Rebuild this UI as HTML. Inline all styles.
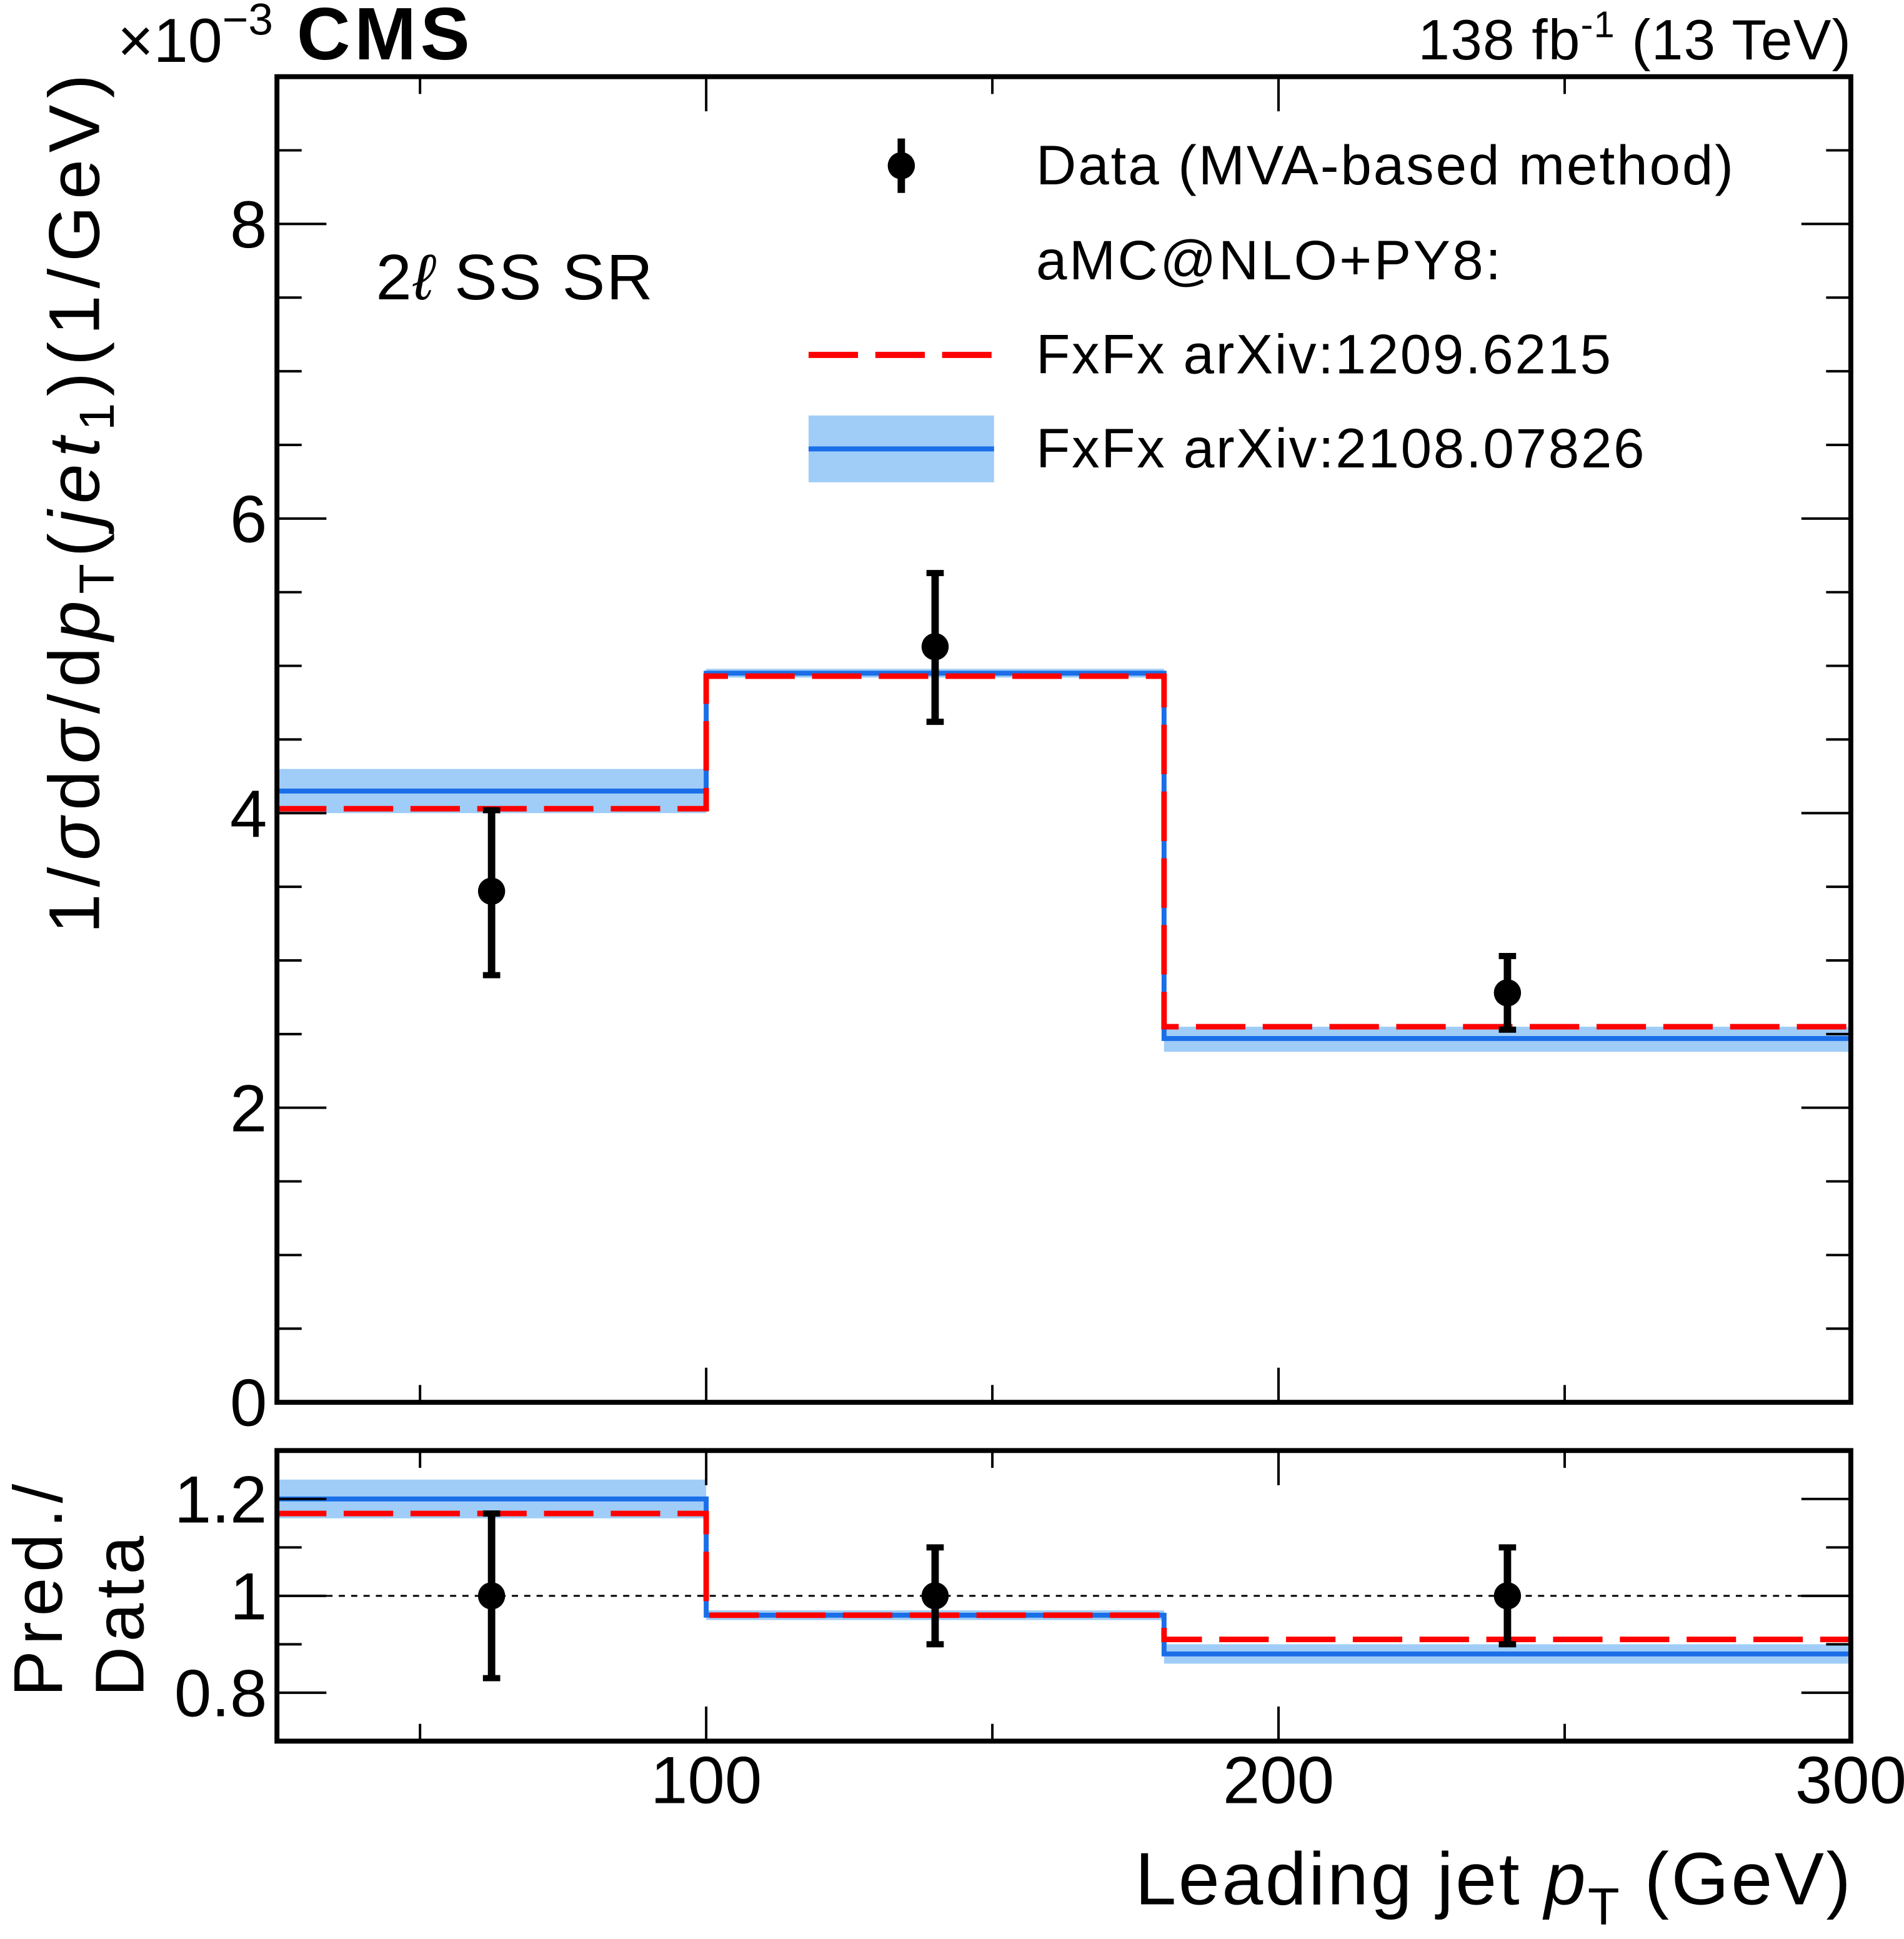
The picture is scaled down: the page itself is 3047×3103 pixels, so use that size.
<!DOCTYPE html>
<html><head><meta charset="utf-8"><style>
html,body{margin:0;padding:0;background:#fff}
svg{display:block}
text{font-family:"Liberation Sans",Arial,sans-serif;fill:#000}
</style></head><body>
<svg id="c" width="3047" height="3103" viewBox="0 0 1540 1568" preserveAspectRatio="none" xmlns="http://www.w3.org/2000/svg">
<g id="g"></g>
</svg>
<script>
const binEdges=[25,100,180,300];
const dataVals=[3.47,5.13,2.78];
const dataLo=[2.90,4.62,2.53];
const dataHi=[4.02,5.63,3.03];
const blueVals=[4.15,4.95,2.47];
const blueLo=[4.00,4.92,2.38];
const blueHi=[4.30,4.98,2.55];
const redVals=[4.03,4.93,2.55];
const ratioDataLo=[0.83,0.90,0.90];
const ratioDataHi=[1.17,1.10,1.10];
const ratioBlue=[1.20,0.96,0.88];
const ratioBlueLo=[1.16,0.95,0.86];
const ratioBlueHi=[1.24,0.97,0.90];
const ratioRed=[1.17,0.96,0.91];
const yTicks=[0,2,4,6,8];
const rTicks=[0.8,1,1.2];
const xTicks=[100,200,300];

const L=224,R=1497,T=62,B=1134,RT=1173,RB=1408;
const X=v=>L+(v-25)/(300-25)*(R-L);
const Y=v=>B-v/9*(B-T);
const RY=v=>RB-(v-0.7)/0.6*(RB-RT);
const g=document.getElementById('g');
const NS='http://www.w3.org/2000/svg';
function el(t,a,name,txt){const e=document.createElementNS(NS,t);for(const k in a)e.setAttribute(k,a[k]);


if(txt!==undefined)e.textContent=txt;g.appendChild(e);return e;}
function line(x1,y1,x2,y2,s,w,name,dash){const a={x1,y1,x2,y2,stroke:s,'stroke-width':w};if(dash)a['stroke-dasharray']=dash;return el('line',a,name);}
function hist(vals,yf,color,w,name,dash){let d='';for(let i=0;i<vals.length;i++){const x0=X(binEdges[i]),x1=X(binEdges[i+1]),y=yf(vals[i]);d+=(i?'L':'M')+x0+','+y+'L'+x1+','+y;}
const a={d,fill:'none',stroke:color,'stroke-width':w};if(dash)a['stroke-dasharray']=dash;el('path',a,name);}
function panel(yf,bVals,bLo,bHi,rVals,dVals,dLo,dHi,name){
 for(let i=0;i<bVals.length;i++){const x0=X(binEdges[i]),x1=X(binEdges[i+1]);el('rect',{x:x0,y:yf(bHi[i]),width:x1-x0,height:yf(bLo[i])-yf(bHi[i]),fill:'#9fcdf8'},name+'-band-'+i);}
 hist(bVals,yf,'#1a6ee8',4,name+'-blue-line');
 hist(rVals,yf,'#ff0000',4.5,name+'-red-line','40,14');
 for(let i=0;i<dVals.length;i++){const xc=X((binEdges[i]+binEdges[i+1])/2);
  line(xc,yf(dLo[i]),xc,yf(dHi[i]),'#000',6,name+'-errbar-'+i);
  line(xc-7,yf(dLo[i]),xc+7,yf(dLo[i]),'#000',5,name+'-errcap-lo-'+i);
  line(xc-7,yf(dHi[i]),xc+7,yf(dHi[i]),'#000',5,name+'-errcap-hi-'+i);
  el('circle',{cx:xc,cy:yf(dVals[i]),r:11,fill:'#000'},name+'-point-'+i);}
}
panel(Y,blueVals,blueLo,blueHi,redVals,dataVals,dataLo,dataHi,'main');
line(L,RY(1),R,RY(1),'#000',1.5,'ratio-unity-line','5,5');
panel(RY,ratioBlue,ratioBlueLo,ratioBlueHi,ratioRed,[1,1,1],ratioDataLo,ratioDataHi,'ratio');
el('rect',{x:L,y:T,width:R-L,height:B-T,fill:'none',stroke:'#000','stroke-width':4},'main-frame');
el('rect',{x:L,y:RT,width:R-L,height:RB-RT,fill:'none',stroke:'#000','stroke-width':4},'ratio-frame');
for(let v=0;v<=9.001;v+=0.5){const maj=Math.abs(v-Math.round(v/2)*2)<1e-6;const len=maj?40:20;
 line(L,Y(v),L+len,Y(v),'#000',2,'y-tick');line(R,Y(v),R-len,Y(v),'#000',2,'y-tick-right');}
yTicks.forEach(v=>el('text',{x:L-8,y:Y(v)+19,'font-size':54,'text-anchor':'end'},'y-tick-label',String(v)));
for(let v=0.8;v<=1.2001;v+=0.1){const maj=Math.abs(v*10-Math.round(v*5)*2)<1e-6;const len=maj?40:20;
 line(L,RY(v),L+len,RY(v),'#000',2,'ratio-y-tick');line(R,RY(v),R-len,RY(v),'#000',2,'ratio-y-tick-right');}
rTicks.forEach(v=>el('text',{x:L-8,y:RY(v)+19,'font-size':54,'text-anchor':'end'},'ratio-y-tick-label',String(v)));
for(let v=50;v<=300;v+=50){const len=v%100===0?28:14;
 line(X(v),B,X(v),B-len,'#000',2,'x-tick');line(X(v),T,X(v),T+len,'#000',2,'x-tick-top');
 line(X(v),RB,X(v),RB-len,'#000',2,'ratio-x-tick');line(X(v),RT,X(v),RT+len,'#000',2,'ratio-x-tick-top');}
xTicks.forEach(v=>el('text',{x:X(v),y:1458,'font-size':54,'text-anchor':'middle'},'x-tick-label',String(v)));
</script>
<svg style="position:absolute;left:0;top:0" width="3047" height="3103" viewBox="0 0 1540 1568" preserveAspectRatio="none" xmlns="http://www.w3.org/2000/svg">
<text x="95" y="50" font-size="50">×10<tspan dy="-22" font-size="36">−3</tspan></text>
<text x="240" y="48" font-size="60" font-weight="bold" textLength="140">CMS</text>
<text x="1147" y="48" font-size="46" textLength="350">138 fb<tspan dy="-18" font-size="30">-1</tspan><tspan dy="18"> (13 TeV)</tspan></text>
<text x="304" y="242" font-size="52" textLength="224">2<tspan font-style="italic">ℓ</tspan> SS SR</text>
<text transform="translate(80,755) rotate(-90)" font-size="58" textLength="695">1/<tspan font-style="italic">σ</tspan>d<tspan font-style="italic">σ</tspan>/d<tspan font-style="italic">p</tspan><tspan font-size="40" dy="12">T</tspan><tspan dy="-12">(</tspan><tspan font-style="italic">jet</tspan><tspan font-size="40" dy="12">1</tspan><tspan dy="-12">)(1/GeV)</tspan></text>
<text transform="translate(50,1372) rotate(-90)" font-size="56" textLength="172">Pred./</text>
<text transform="translate(116,1372) rotate(-90)" font-size="56" textLength="130">Data</text>
<text x="918" y="1540" font-size="60" textLength="579">Leading jet <tspan font-style="italic">p</tspan><tspan font-size="42" dy="16">T</tspan><tspan dy="-16"> (GeV)</tspan></text>
<g>
<line x1="729" y1="112" x2="729" y2="156" stroke="#000" stroke-width="6"/>
<circle cx="729" cy="134" r="11" fill="#000"/>
<text x="838" y="149" font-size="45" textLength="564">Data (MVA-based method)</text>
<text x="838" y="226" font-size="45" textLength="376">aMC@NLO+PY8:</text>
<line x1="654" y1="287" x2="804" y2="287" stroke="#f00" stroke-width="5" stroke-dasharray="40,14"/>
<text x="838" y="302" font-size="45" textLength="465">FxFx arXiv:1209.6215</text>
<rect x="654" y="336" width="150" height="54" fill="#9fcdf8"/>
<line x1="654" y1="363" x2="804" y2="363" stroke="#1a6ee8" stroke-width="4"/>
<text x="838" y="378" font-size="45" textLength="492">FxFx arXiv:2108.07826</text>
</g>
</svg>
</body></html>
